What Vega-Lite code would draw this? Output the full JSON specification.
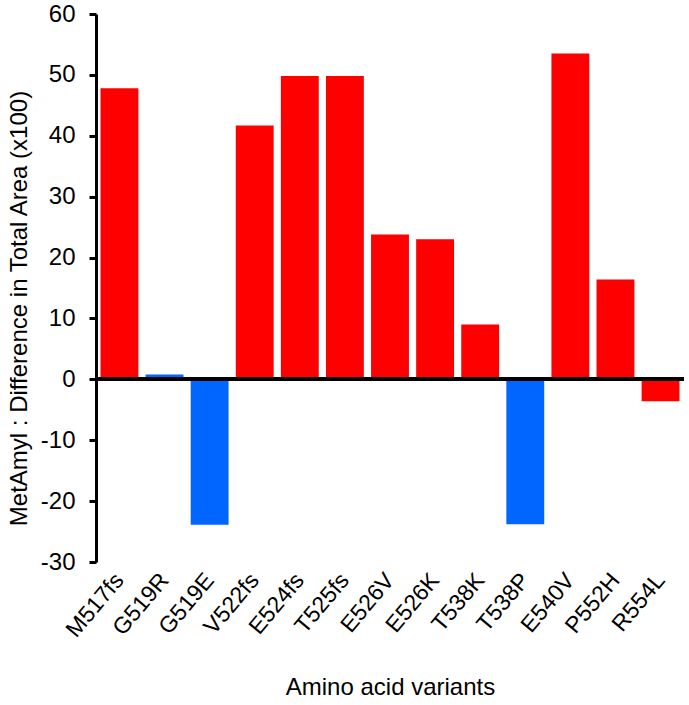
{
  "$schema": "https://vega.github.io/schema/vega-lite/v6.json",
  "autosize": "none",
  "width": 588,
  "height": 548,
  "padding": {"left": 96, "top": 14, "right": 5, "bottom": 143},
  "background": "white",
  "config": {
    "view": {"stroke": null},
    "font": "Liberation Sans",
    "axis": {"labelFont": "Liberation Sans", "titleFont": "Liberation Sans", "labelColor": "black", "titleColor": "black", "titleFontWeight": "normal", "grid": false}
  },
  "data": {
    "values": [
      {"variant": "M517fs", "value": 47.8, "group": "red"},
      {"variant": "G519R", "value": 0.8, "group": "blue"},
      {"variant": "G519E", "value": -23.9, "group": "blue"},
      {"variant": "V522fs", "value": 41.7, "group": "red"},
      {"variant": "E524fs", "value": 49.8, "group": "red"},
      {"variant": "T525fs", "value": 49.8, "group": "red"},
      {"variant": "E526V", "value": 23.8, "group": "red"},
      {"variant": "E526K", "value": 23.0, "group": "red"},
      {"variant": "T538K", "value": 9.0, "group": "red"},
      {"variant": "T538P", "value": -23.8, "group": "blue"},
      {"variant": "E540V", "value": 53.5, "group": "red"},
      {"variant": "P552H", "value": 16.4, "group": "red"},
      {"variant": "R554L", "value": -3.6, "group": "red"}
    ]
  },
  "layer": [
    {
      "mark": {"type": "bar"},
      "encoding": {
        "x": {
          "field": "variant", "type": "nominal", "sort": null,
          "scale": {"paddingInner": 0.16, "paddingOuter": 0.1},
          "axis": {
            "title": "Amino acid variants", "titleFontSize": 24, "titlePadding": 34,
            "labelAngle": -50, "labelFontSize": 23, "labelPadding": 14,
            "ticks": false, "domain": false
          }
        },
        "y": {
          "field": "value", "type": "quantitative",
          "scale": {"domain": [-30, 60], "nice": false, "zero": false},
          "axis": {
            "title": "MetAmyl : Difference in Total Area (x100)", "titleFontSize": 24, "titlePadding": 9, "titleY": 294,
            "values": [-30, -20, -10, 0, 10, 20, 30, 40, 50, 60],
            "labelExpr": "'' + datum.value",
            "labelFontSize": 24, "labelPadding": 14,
            "domainColor": "black", "domainWidth": 3,
            "tickColor": "black", "tickWidth": 3, "tickSize": 7
          }
        },
        "color": {
          "field": "group", "type": "nominal",
          "scale": {"domain": ["red", "blue"], "range": ["#FF0000", "#0066FF"]},
          "legend": null
        }
      }
    },
    {
      "mark": {"type": "rule", "color": "black", "strokeWidth": 3},
      "encoding": {"y": {"datum": 0, "type": "quantitative"}}
    }
  ]
}
